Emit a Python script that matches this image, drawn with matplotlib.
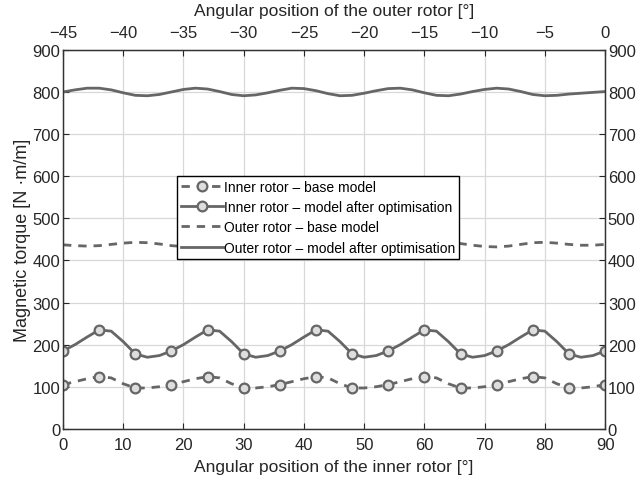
import matplotlib
matplotlib.use("Agg")
import matplotlib.pyplot as plt

plt.rcParams['font.family'] = ['Liberation Sans', 'DejaVu Sans']

# angular position of the inner rotor [deg]
angle = list(range(0, 92, 2))

inner_base = [105, 112, 119, 124, 121, 107, 97, 97, 100,
              105, 112, 119, 124, 121, 107, 97, 97, 100,
              105, 112, 119, 124, 121, 107, 97, 97, 100,
              105, 112, 119, 124, 121, 107, 97, 97, 100,
              105, 112, 119, 124, 121, 107, 97, 97, 100,
              105]
inner_opt = [185, 200, 218, 235, 232, 207, 178, 170, 174,
             185, 200, 218, 235, 232, 207, 178, 170, 174,
             185, 200, 218, 235, 232, 207, 178, 170, 174,
             185, 200, 218, 235, 232, 207, 178, 170, 174,
             185, 200, 218, 235, 232, 207, 178, 170, 174,
             185]
outer_base = [437, 435, 434, 435, 438, 441, 443, 442, 439, 435,
              433, 432, 434, 438, 442, 443, 441, 437, 434, 432,
              433, 436, 440, 443, 442, 438, 434, 432, 433, 437,
              441, 443, 443, 440, 436, 433, 432, 434, 438, 442,
              443, 441, 438, 436, 436, 438]
outer_opt = [800, 805, 809, 809, 805, 798, 792, 791, 794, 800,
             806, 809, 807, 801, 794, 791, 793, 798, 804, 809,
             808, 803, 796, 791, 792, 797, 803, 808, 809, 805,
             798, 792, 791, 795, 801, 806, 809, 807, 801, 794,
             791, 792, 795, 797, 799, 801]

labels = ["Inner rotor \u2013 base model",
          "Inner rotor \u2013 model after optimisation",
          "Outer rotor \u2013 base model",
          "Outer rotor \u2013 model after optimisation"]

bottom_ticks = list(range(0, 91, 10))
top_ticks = list(range(-45, 1, 5))
y_ticks = list(range(0, 901, 100))

col = '#666666'
txt = '#262626'
fig = plt.figure(figsize=(6.43, 4.89), dpi=100)
ax = fig.add_axes([0.098, 0.121, 0.843, 0.775])

mk = dict(marker='o', markersize=7, markerfacecolor='#dedede',
          markeredgecolor=col, markeredgewidth=1.6, markevery=3)
ax.plot(angle, inner_base, linestyle=(0, (3, 2.5)), color=col, lw=2, label=labels[0], **mk)
ax.plot(angle, inner_opt, linestyle='-', color=col, lw=2, label=labels[1], **mk)
ax.plot(angle, outer_base, linestyle=(0, (3, 2.5)), color=col, lw=2, label=labels[2])
ax.plot(angle, outer_opt, linestyle='-', color=col, lw=2, label=labels[3])

ax.set_xlim(0, 90)
ax.set_ylim(0, 900)
ax.set_xticks(bottom_ticks)
ax.set_yticks(y_ticks)
ax.grid(True, color='#d8d8d8', lw=0.9)
ax.set_axisbelow(True)
ax.tick_params(axis='y', direction='in', length=4, labelsize=12, colors=txt,
               right=True, labelright=True, pad=2)
ax.tick_params(axis='x', direction='in', length=4, labelsize=12, colors=txt, pad=6)
for s in ax.spines.values():
    s.set_color('#333333')
    s.set_linewidth(1.0)
ax.set_xlabel("Angular position of the inner rotor [\u00b0]", fontsize=12.5, labelpad=5, color=txt)
ax.set_ylabel("Magnetic torque [N \u00b7m/m]", fontsize=13, labelpad=1, color=txt)

ax2 = ax.twiny()
ax2.set_xlim(-45, 0)
ax2.set_xticks(top_ticks)
ax2.tick_params(direction='in', length=4, labelsize=12, colors=txt, pad=7)
ax2.set_xlabel("Angular position of the outer rotor [\u00b0]", fontsize=12.5, labelpad=7, color=txt)
for s in ax2.spines.values():
    s.set_color('#333333')

leg = ax.legend(loc='upper left', bbox_to_anchor=(0.21, 0.668), fontsize=10,
                frameon=True, fancybox=False, edgecolor='black', framealpha=1,
                handlelength=3.0, handletextpad=0.1, labelspacing=0.45,
                borderpad=0.3, borderaxespad=0)
leg.get_frame().set_linewidth(1.0)

fig.savefig("out.png", dpi=100)
